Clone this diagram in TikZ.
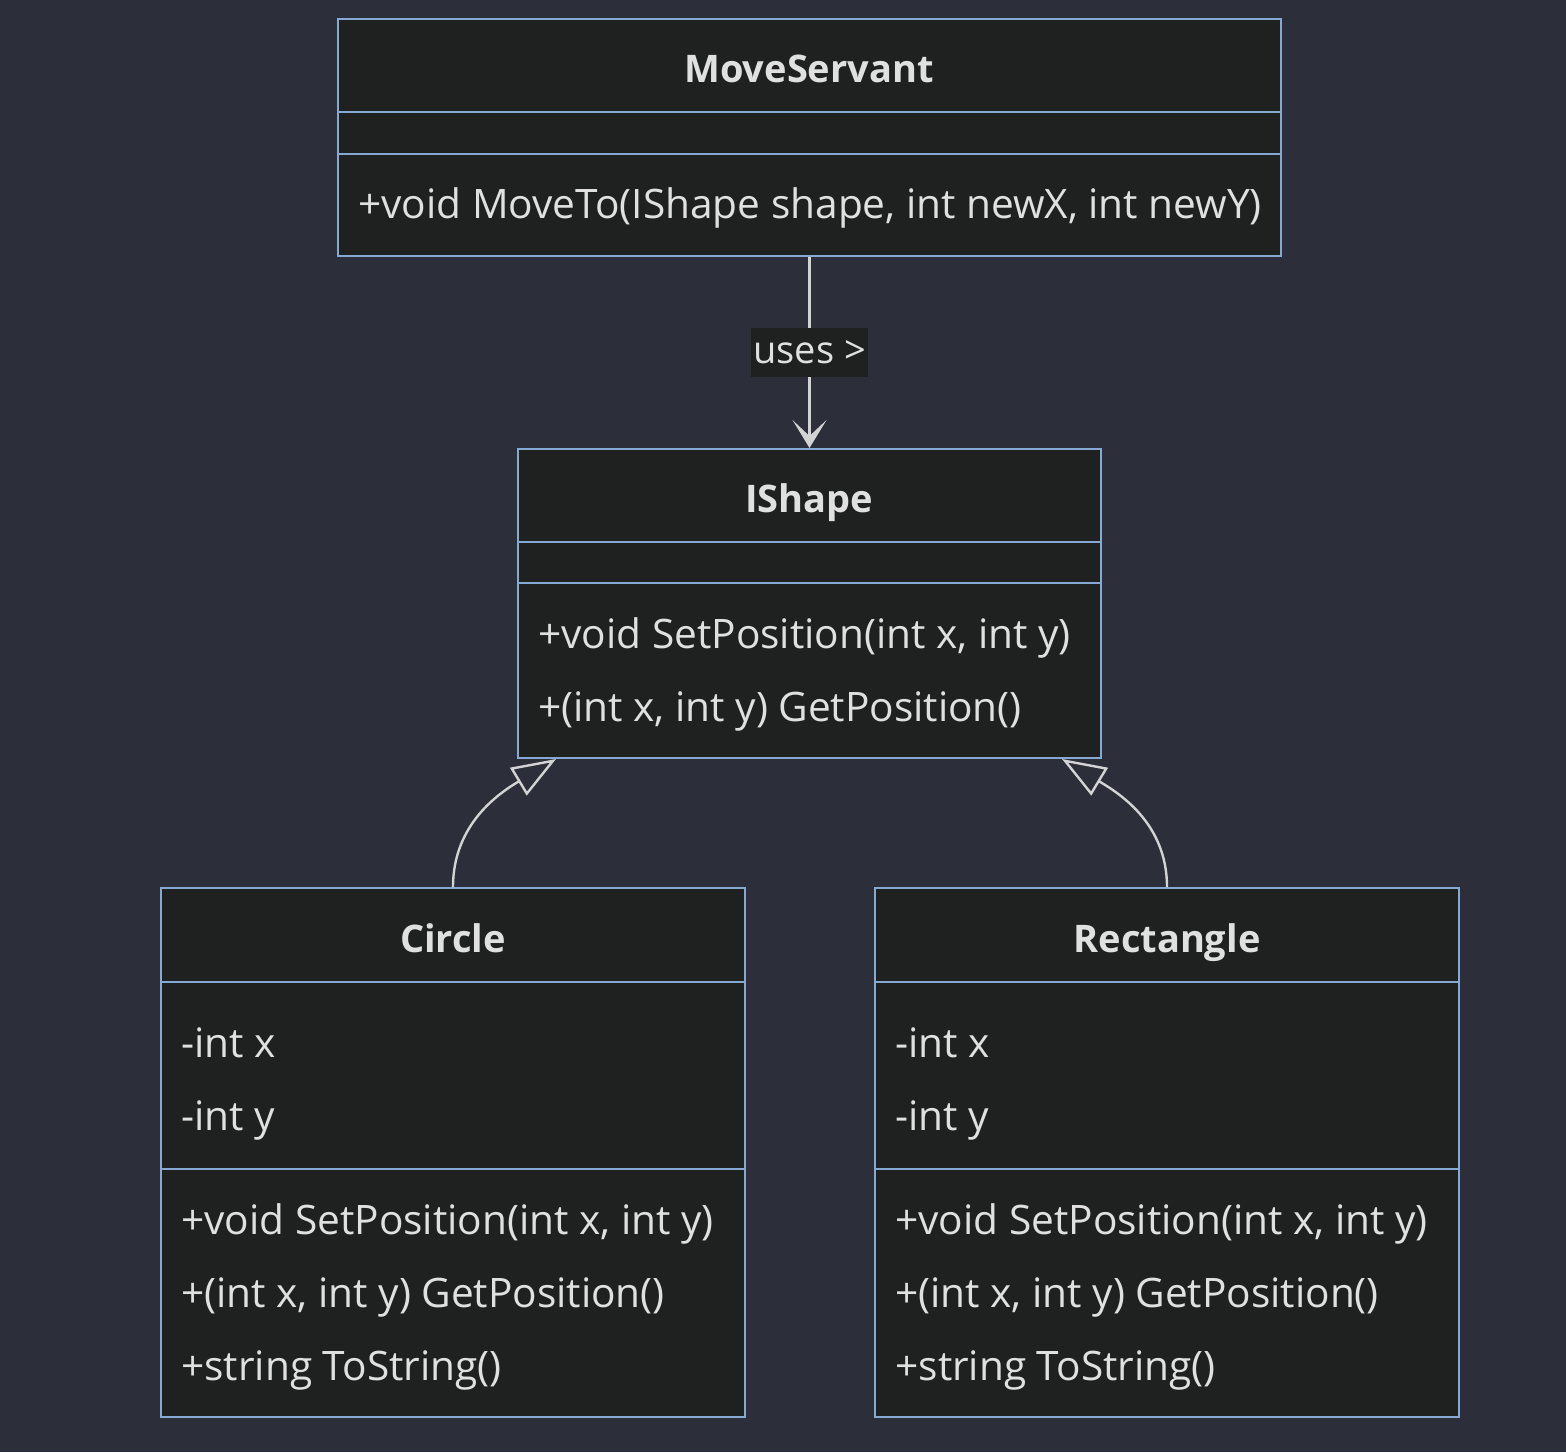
\documentclass[tikz,border=0pt]{standalone}
\usepackage{fontspec}
\setmainfont{Open Sans}
\usetikzlibrary{arrows.meta,fit}
\definecolor{pagebg}{HTML}{2C2F3A}
\definecolor{boxbg}{HTML}{1F2020}
\definecolor{boxline}{HTML}{86A9D4}
\definecolor{edgeline}{HTML}{D3D3D3}
\definecolor{txt}{HTML}{E0E0E0}
\tikzset{
  classbox/.style={draw=boxline, fill=boxbg, line width=1pt, inner sep=0pt},
  divider/.style={draw=boxline, line width=1pt},
  classname/.style={text=txt, font=\bfseries\fontsize{19}{23}\selectfont, inner sep=0pt, anchor=base},
  member/.style={text=txt, font=\fontsize{20.3}{24}\selectfont, inner sep=0pt, anchor=base west},
  dep/.style={draw=edgeline, line width=1.2pt, -{Stealth[length=14pt,width=17pt,inset=8pt]}},
  inherit/.style={draw=edgeline, line width=1.2pt, -{Triangle[open,length=22pt,width=16pt]}},
  edgelabel/.style={fill=boxbg, text=txt, font=\fontsize{19}{23}\selectfont, inner xsep=1pt, inner ysep=0pt, minimum height=24.5pt},
}
\begin{document}
\begin{tikzpicture}[x=0.5pt,y=-0.5pt]
\fill[pagebg] (0,0) rectangle (1566,1452);
\useasboundingbox (0,0) rectangle (1566,1452);

% MoveServant
\node[classbox, fit={(338,19) (1281,256)}] (moveservant) {};
\draw[divider] (moveservant.west |- 0,112) -- (moveservant.east |- 0,112);
\draw[divider] (moveservant.west |- 0,154) -- (moveservant.east |- 0,154);
\node[classname] (moveservant-name) at (809,82) {MoveServant};
\node[member] (moveservant-m1) at (358,218) {+void MoveTo(IShape shape, int newX, int newY)};

% IShape
\node[classbox, fit={(518,449) (1101,758)}] (ishape) {};
\draw[divider] (ishape.west |- 0,542) -- (ishape.east |- 0,542);
\draw[divider] (ishape.west |- 0,583) -- (ishape.east |- 0,583);
\node[classname] (ishape-name) at (809,512) {IShape};
\node[member] (ishape-m1) at (538,648) {+void SetPosition(int x, int y)};
\node[member] (ishape-m2) at (538,721) {+(int x, int y) GetPosition()};

% Circle
\node[classbox, fit={(161,888) (745,1417)}] (circle) {};
\draw[divider] (circle.west |- 0,982) -- (circle.east |- 0,982);
\draw[divider] (circle.west |- 0,1169) -- (circle.east |- 0,1169);
\node[classname] (circle-name) at (453,952) {Circle};
\node[member] (circle-a1) at (181,1057) {-int x};
\node[member] (circle-a2) at (181,1130) {-int y};
\node[member] (circle-m1) at (181,1234) {+void SetPosition(int x, int y)};
\node[member] (circle-m2) at (181,1307) {+(int x, int y) GetPosition()};
\node[member] (circle-m3) at (181,1380) {+string ToString()};

% Rectangle
\node[classbox, fit={(875,888) (1459,1417)}] (rectangle) {};
\draw[divider] (rectangle.west |- 0,982) -- (rectangle.east |- 0,982);
\draw[divider] (rectangle.west |- 0,1169) -- (rectangle.east |- 0,1169);
\node[classname] (rectangle-name) at (1167,952) {Rectangle};
\node[member] (rectangle-a1) at (895,1057) {-int x};
\node[member] (rectangle-a2) at (895,1130) {-int y};
\node[member] (rectangle-m1) at (895,1234) {+void SetPosition(int x, int y)};
\node[member] (rectangle-m2) at (895,1307) {+(int x, int y) GetPosition()};
\node[member] (rectangle-m3) at (895,1380) {+string ToString()};

% relations
\coordinate (ishape-left) at (556,759);
\coordinate (ishape-right) at (1062,759);
\draw[dep] (moveservant.south) -- node[edgelabel] (uses) {uses >} (ishape.north);
\draw[inherit] (circle.north) to[out=90, in=211] (ishape-left);
\draw[inherit] (rectangle.north) to[out=90, in=-31] (ishape-right);
\end{tikzpicture}
\end{document}
